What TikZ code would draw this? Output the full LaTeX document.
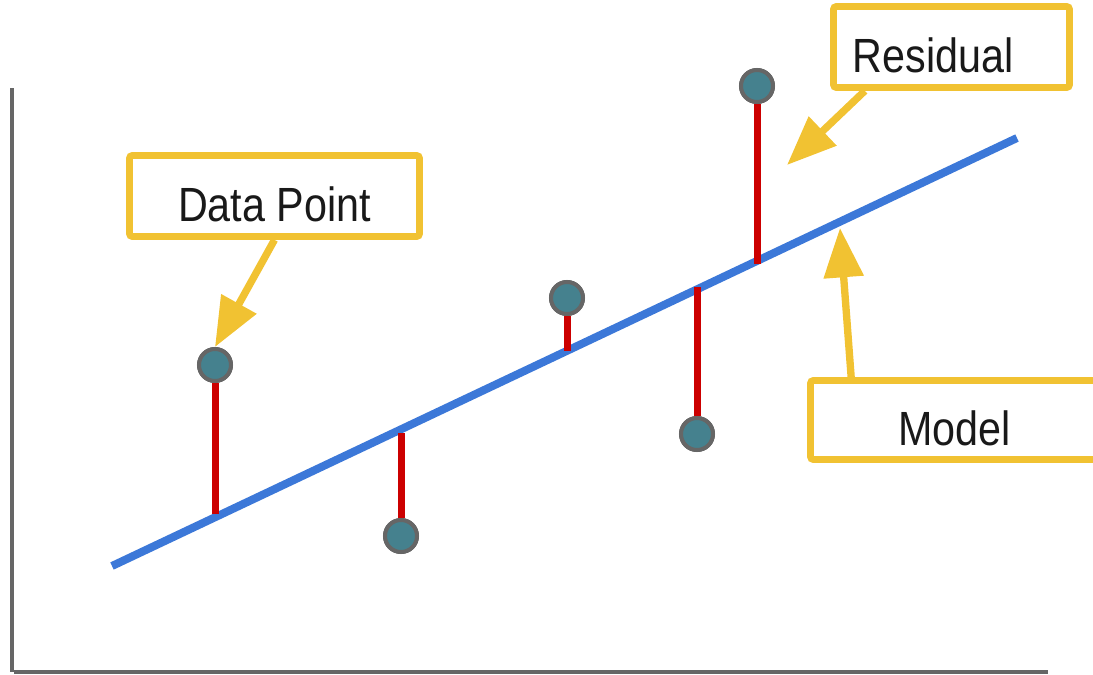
\documentclass[tikz,border=0pt]{standalone}
\usepackage{fontspec}
\newfontfamily\calloutfont{Liberation Sans}[FakeStretch=0.86]
\usepackage{xcolor}
\usetikzlibrary{arrows.meta,calc}
\definecolor{axisgray}{HTML}{666666}
\definecolor{modelblue}{HTML}{3C78D8}
\definecolor{residred}{HTML}{CC0000}
\definecolor{pointteal}{HTML}{45818E}
\definecolor{calloutyellow}{HTML}{F1C232}
\tikzset{
  axis/.style    ={draw=axisgray,line width=2.4pt},
  fitline/.style ={draw=modelblue,line width=6pt},
  resid/.style   ={draw=residred,line width=5.25pt},
  datapt/.style  ={circle,draw=axisgray,fill=pointteal,line width=3pt,
                   minimum size=24pt,inner sep=0pt},
  callout/.style ={draw=calloutyellow,line width=5pt,rounded corners=2pt,fill=white,
                   font=\calloutfont\fontsize{36}{40}\selectfont,text=black!90,
                   text height=38pt,text depth=0pt,inner ysep=0pt},
  pointer/.style ={draw=calloutyellow,line width=5.5pt,
                   -{Triangle[length=37pt,width=29pt]}},
}

\begin{document}
\begin{tikzpicture}[x=0.75pt,y=-0.75pt]
  \useasboundingbox (0,0) rectangle (1093,675);
  % axes
  \coordinate (ytop) at (12,88);
  \coordinate (orig) at (12,672);
  \coordinate (xend) at (1048,672);
  \draw[axis] (ytop) -- (orig);
  \draw[axis] ([xshift=1.5pt]orig) -- (xend);
  % fitted model
  \coordinate (m0) at (112,566);
  \coordinate (m1) at (1017,138);
  \draw[fitline] (m0) -- (m1);
  % residuals
  \coordinate (f1) at (215,514);
  \coordinate (f2) at (401,433);
  \coordinate (f3) at (567,350.8);
  \coordinate (f4) at (697,287);
  \coordinate (f5) at (757,264);
  \node[datapt] (p1) at (215,365) {};
  \node[datapt] (p2) at (401,536) {};
  \node[datapt] (p3) at (567,298) {};
  \node[datapt] (p4) at (697,434) {};
  \node[datapt] (p5) at (757,86) {};
  \draw[resid] (p1) -- (f1);
  \draw[resid] (p2) -- (f2);
  \draw[resid] (p3) -- (f3);
  \draw[resid] (p4) -- (f4);
  \draw[resid] (p5) -- (f5);
  \node[datapt] at (p1) {};
  \node[datapt] at (p2) {};
  \node[datapt] at (p3) {};
  \node[datapt] at (p4) {};
  \node[datapt] at (p5) {};
  % callouts
  \node[callout,minimum width=217.5pt,minimum height=60.75pt] (dp) at (274.5,196) {Data Point};
  \node[callout,minimum width=177pt,minimum height=60.75pt,text width=148pt,
        inner xsep=14.5pt,align=left] (res) at (951.5,47) {Residual};
  \node[callout,minimum width=216pt,minimum height=59.25pt] (mdl) at (954.5,420) {Model};
  \coordinate (restip) at (787,165);
  \coordinate (mdltip) at (840,228);
  \draw[pointer] (dp.south) -- (p1.north);
  \draw[pointer] ([xshift=26pt]res.south west) -- (restip);
  \draw[pointer] ([xshift=33pt]mdl.north west) -- (mdltip);
\end{tikzpicture}
\end{document}
